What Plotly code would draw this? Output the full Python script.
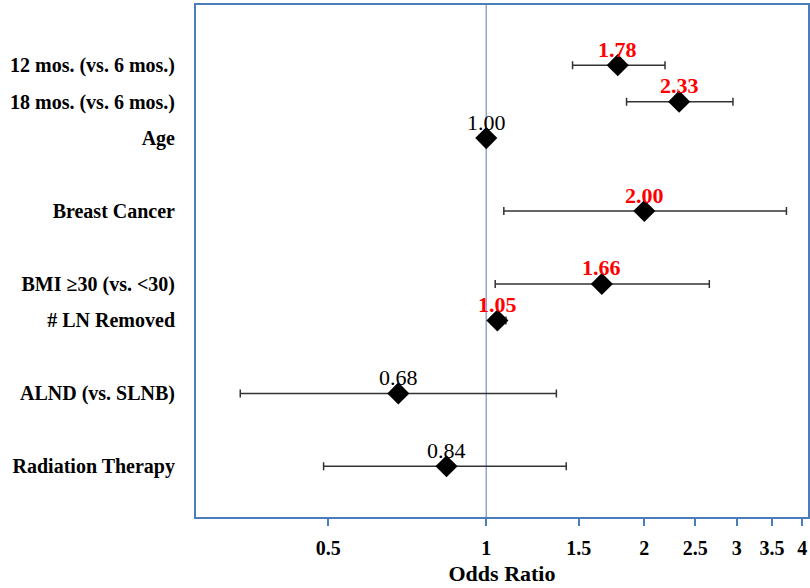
import numpy as np
import plotly.graph_objects as go

categories = ["12 mos. (vs. 6 mos.)", "18 mos. (vs. 6 mos.)", "Age", "Breast Cancer",
              "BMI \u226530 (vs. <30)", "# LN Removed", "ALND (vs. SLNB)", "Radiation Therapy"]
row_pos = [0, 1, 2, 4, 6, 7, 9, 11]
odds_ratio = [1.78, 2.33, 1.00, 2.00, 1.66, 1.05, 0.68, 0.84]
ci_lower = [1.46, 1.85, 0.98, 1.08, 1.04, 1.02, 0.34, 0.49]
ci_upper = [2.19, 2.95, 1.02, 3.73, 2.66, 1.09, 1.36, 1.42]
significant = [True, True, False, True, True, True, False, False]
tick_vals = [0.5, 1, 1.5, 2, 2.5, 3, 3.5, 4]
tick_text = ["0.5", "1", "1.5", "2", "2.5", "3", "3.5", "4"]

FONT = "Liberation Serif, Times New Roman, serif"
FRAME = "#4a7ebb"

fig = go.Figure()

fig.add_shape(type="line", xref="x", yref="paper", x0=1, x1=1, y0=0, y1=1,
              line=dict(color="#8fa8c6", width=1.5), layer="below")

fig.add_trace(go.Scatter(
    x=odds_ratio, y=row_pos, mode="markers",
    marker=dict(symbol="diamond", size=17, color="black"),
    error_x=dict(type="data", symmetric=False,
                 array=[u - o for u, o in zip(ci_upper, odds_ratio)],
                 arrayminus=[o - l for o, l in zip(odds_ratio, ci_lower)],
                 color="#333333", thickness=1.5, width=4),
    showlegend=False, hoverinfo="skip"))

for o, y, s in zip(odds_ratio, row_pos, significant):
    fig.add_annotation(
        x=np.log10(o), y=y, xref="x", yref="y", text=(f"<b>{o:.2f}</b>" if s else f"{o:.2f}"),
        showarrow=False, yshift=16,
        font=dict(family=FONT, size=22, color="#ff0000" if s else "black"))

fig.update_xaxes(
    type="log", range=[np.log10(0.28), np.log10(4.1)],
    tickvals=tick_vals, ticktext=[f"<b>{t}</b>" for t in tick_text],
    tickfont=dict(family=FONT, size=20, color="black"),
    ticks="outside", ticklen=7, tickcolor=FRAME, tickwidth=1.5, ticklabelstandoff=5,
    showline=True, linecolor=FRAME, linewidth=2, mirror=True,
    showgrid=False, zeroline=False, automargin=False,
    title=dict(text="<b>Odds Ratio</b>", font=dict(family=FONT, size=22, color="black"), standoff=8))

fig.update_yaxes(
    range=[12.39, -1.65], tickvals=row_pos, ticktext=[f"<b>{c}</b>" for c in categories],
    tickfont=dict(family=FONT, size=20, color="black"),
    ticks="", ticklabelstandoff=15, automargin=False,
    showline=True, linecolor=FRAME, linewidth=2, mirror=True,
    showgrid=False, zeroline=False)

fig.update_layout(
    width=810, height=588,
    margin=dict(l=196, r=2, t=5, b=71, autoexpand=False),
    plot_bgcolor="white", paper_bgcolor="white",
    font=dict(family=FONT))

fig.write_html("out.html", config={"displayModeBar": False},
               post_script="document.body.style.margin='0';")
